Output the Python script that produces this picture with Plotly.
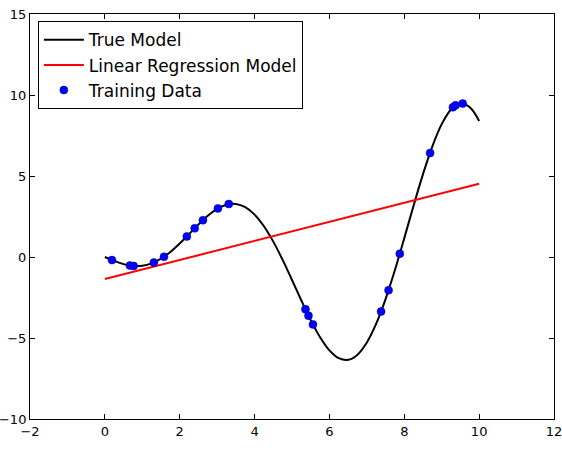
import plotly.graph_objects as go

# True model curve
curve_x = [0, 0.25, 0.5, 0.75, 1.0, 1.25, 1.5, 1.75, 2.0, 2.25, 2.5, 2.75, 3.0, 3.25, 3.5,
           3.75, 4.0, 4.25, 4.5, 4.75, 5.0, 5.25, 5.5, 5.75, 6.0, 6.25, 6.5, 6.75, 7.0,
           7.25, 7.5, 7.75, 8.0, 8.25, 8.5, 8.75, 9.0, 9.25, 9.5, 9.75, 10.0]
curve_y = [0.0, -0.242, -0.439, -0.549, -0.540, -0.394, -0.106, 0.312, 0.832, 1.413, 2.003,
           2.542, 2.970, 3.231, 3.278, 3.077, 2.615, 1.896, 0.949, -0.179, -1.418, -2.686,
           -3.898, -4.951, -5.761, -6.247, -6.348, -6.028, -5.277, -4.118, -2.600, -0.805,
           1.164, 3.184, 5.117, 6.832, 8.200, 9.108, 9.473, 9.239, 8.391]

# Linear regression model
reg_x = [0, 10]
reg_y = [-1.36, 4.52]

# Training data
train_x = [0.19, 0.67, 0.77, 1.31, 1.58, 2.19, 2.40, 2.62, 3.02, 3.31,
           5.36, 5.44, 5.56, 7.38, 7.58, 7.88, 8.69, 9.30, 9.37, 9.56]
train_y = [-0.19, -0.53, -0.55, -0.34, 0.01, 1.27, 1.77, 2.27, 3.00, 3.27,
           -3.23, -3.62, -4.16, -3.37, -2.05, 0.20, 6.42, 9.24, 9.36, 9.47]

fig = go.Figure()
fig.add_trace(go.Scatter(x=curve_x, y=curve_y, mode="lines", name="True Model",
                         line=dict(color="black", width=2, shape="spline")))
fig.add_trace(go.Scatter(x=reg_x, y=reg_y, mode="lines", name="Linear Regression Model",
                         line=dict(color="#ff0000", width=2)))
fig.add_trace(go.Scatter(x=train_x, y=train_y, mode="markers", name="Training Data",
                         marker=dict(color="#0000ff", size=8,
                                     line=dict(color="#000080", width=0.5))))

axis_common = dict(showgrid=False, zeroline=False, showline=True, linecolor="black",
                   linewidth=1, mirror="ticks", ticks="inside", ticklen=5,
                   tickcolor="black", tickfont=dict(size=13, color="black"),
                   automargin=False, ticklabeloverflow="allow")

fig.update_layout(
    width=562, height=454,
    margin=dict(l=30, r=8, t=14, b=35),
    paper_bgcolor="white", plot_bgcolor="white",
    font=dict(family="DejaVu Sans", color="black"),
    xaxis=dict(range=[-2, 12], tickvals=[-2, 0, 2, 4, 6, 8, 10, 12],
               ticktext=["\u22122", "0", "2", "4", "6", "8", "10", "12"], **axis_common),
    yaxis=dict(range=[-10, 15], tickvals=[-10, -5, 0, 5, 10, 15],
               ticktext=["\u221210", "\u22125", "0", "5", "10", "15"], **axis_common),
    legend=dict(x=0.015, y=0.982, xanchor="left", yanchor="top",
                bordercolor="black", borderwidth=1, bgcolor="white",
                font=dict(size=17, color="black"), tracegroupgap=0, itemwidth=40),
    showlegend=True,
)

fig.write_html("out.html")
